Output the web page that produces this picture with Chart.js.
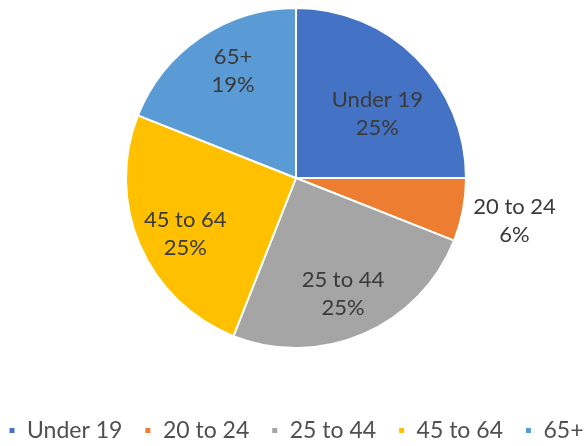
<!DOCTYPE html>
<html>
<head>
<meta charset="utf-8">
<script src="https://cdn.jsdelivr.net/npm/chart.js@4/dist/chart.umd.min.js"></script>
<style>
  html, body { margin: 0; padding: 0; background: #ffffff; overflow: hidden; }
  #wrap { position: relative; width: 588px; height: 446px; overflow: hidden; background: #ffffff; }
  #c { position: absolute; left: -34px; top: 0; }
</style>
</head>
<body>
<div id="wrap"><canvas id="c" width="660" height="452"></canvas></div>
<script>
const categories = ['Under 19', '20 to 24', '25 to 44', '45 to 64', '65+'];
const shares = [25, 6, 25, 25, 19];
const sliceColors = ['#4472C4', '#ED7D31', '#A5A5A5', '#FFC000', '#5B9BD5'];

const pieLabels = {
  id: 'pieLabels',
  afterDatasetsDraw(chart, args, opts) {
    const ctx = chart.ctx;
    const meta = chart.getDatasetMeta(0);
    const data = chart.data.datasets[0].data;
    const total = data.reduce((a, b) => a + b, 0);
    ctx.save();
    ctx.font = opts.font;
    ctx.fillStyle = opts.color;
    ctx.textAlign = 'center';
    ctx.textBaseline = 'middle';
    meta.data.forEach((arc, i) => {
      const p = arc.getProps(['x', 'y', 'startAngle', 'endAngle', 'outerRadius'], true);
      const mid = (p.startAngle + p.endAngle) / 2 + opts.shift[i] * Math.PI / 180;
      const f = opts.radial[i];
      const cx = p.x + Math.cos(mid) * p.outerRadius * f;
      const cy = p.y + Math.sin(mid) * p.outerRadius * f;
      const pct = Math.round(data[i] / total * 100) + '%';
      ctx.fillText(chart.data.labels[i], cx, cy - opts.lineGap / 2);
      ctx.fillText(pct, cx, cy + opts.lineGap / 2);
    });
    ctx.restore();
  }
};

new Chart(document.getElementById('c'), {
  type: 'pie',
  data: {
    labels: categories,
    datasets: [{
      data: shares,
      backgroundColor: sliceColors,
      borderColor: '#ffffff',
      borderWidth: 2
    }]
  },
  options: {
    responsive: false,
    animation: false,
    devicePixelRatio: 1,
    layout: { padding: { top: 7, left: 0, right: 0, bottom: 0 } },
    plugins: {
      tooltip: { enabled: false },
      legend: {
        position: 'bottom',
        title: { display: true, text: '', font: { size: 10 }, padding: { top: 36, bottom: 0 } },
        labels: {
          boxWidth: 7,
          boxHeight: 7,
          padding: 22,
          color: '#505050',
          font: { family: 'Lato', size: 23 }
        }
      },
      pieLabels: {
        font: '22px Lato',
        color: '#3a3a3a',
        lineGap: 28,
        radial: [0.61, 1.31, 0.735, 0.73, 0.73],
        shift: [6.7, 0.3, 1.3, -3.4, 3.7]
      }
    }
  },
  plugins: [pieLabels]
});
</script>
</body>
</html>
